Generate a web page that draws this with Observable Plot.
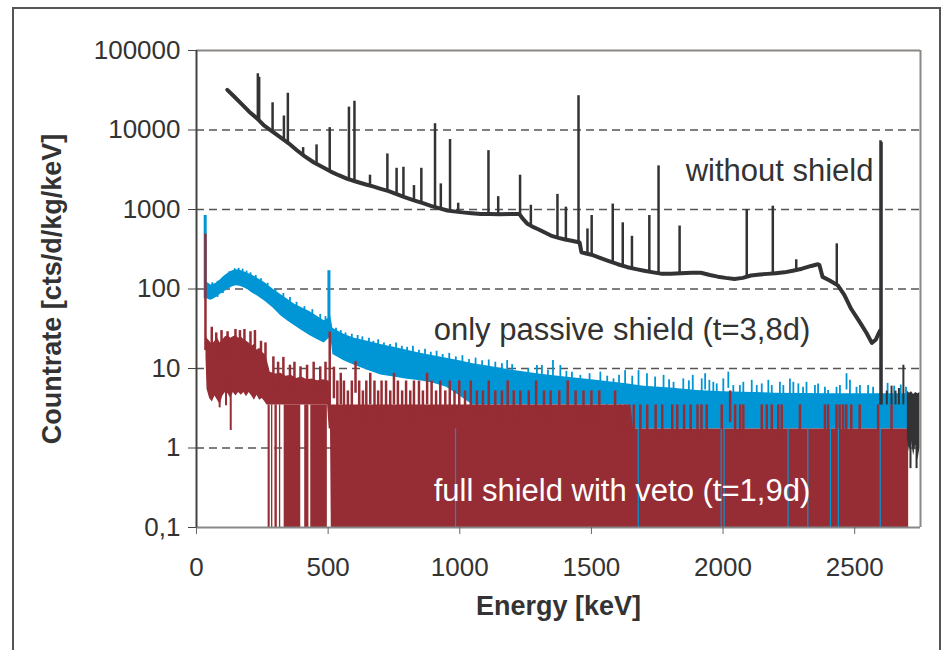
<!DOCTYPE html>
<html><head><meta charset="utf-8">
<script src="https://cdn.jsdelivr.net/npm/d3@7"></script>
<script src="https://cdn.jsdelivr.net/npm/@observablehq/plot@0.6"></script>
<style>
body{margin:0;background:#fff;}
#wrap{position:relative;width:952px;height:650px;overflow:hidden;background:#fff;}
#border{position:absolute;left:12px;top:7px;width:929px;height:700px;border:2px solid #555;box-sizing:border-box;}
#chart{position:absolute;left:0;top:0;}
</style></head><body>
<div id="wrap"><div id="border"></div><div id="chart"></div></div>
<script>
// ---- axes ----
const xDomain = [0, 2750];
const yDomain = [0.1, 100000];
const xTicks = [0, 500, 1000, 1500, 2000, 2500];
const yTicks = [0.1, 1, 10, 100, 1000, 10000, 100000];
const yTickLabels = ["0,1", "1", "10", "100", "1000", "10000", "100000"];
const gridValues = [1, 10, 100, 1000, 10000];
const xTitle = "Energy [keV]";
const yTitle = "Countrate [cts/d/kg/keV]";

// ---- without shield (continuum + lines) ----
const bareE = [117,140,170,200,230,256,290,319,350,380,410,446,480,510,540,573,605,640,670,700,730,760,790,826,860,890,920,953,985,1010,1045,1080,1115,1150,1190,1226,1240,1257,1280,1300,1325,1346,1375,1400,1425,1447,1455,1462,1480,1500,1530,1561,1600,1637,1670,1700,1735,1764,1800,1840,1880,1916,1950,1980,2010,2043,2075,2106,2140,2170,2200,2233,2265,2300,2335,2360,2366,2378,2405,2436,2460,2487,2520,2545,2565,2580,2592,2597];
const bareV = [32000,27000,21500,17000,14000,11400,9500,8100,6800,5600,4700,3900,3400,3000,2700,2430,2250,2080,1950,1820,1700,1560,1430,1300,1200,1110,1040,970,940,920,900,880,875,870,875,880,760,660,600,560,510,470,440,420,405,390,385,290,280,270,248,228,205,188,178,170,162,156,156,158,160,160,150,143,138,134,138,148,152,155,158,162,170,180,195,205,200,142,128,111,85,56,38,28,21,23,28,30];
const barePeakE    = [233,238,289,332,347,405,456,506,579,600,659,725,760,786,826,854,906,928,963,994,1109,1146,1229,1270,1371,1403,1451,1485,1501,1581,1619,1654,1720,1755,1835,2090,2189,2278,2432,2598];
const barePeakBase = [14000,13500,9300,7400,6800,4800,3700,3000,2400,2300,2000,1750,1560,1470,1300,1220,1070,1020,960,935,875,870,880,630,450,420,390,278,270,220,195,186,168,158,158,145,158,172,112,3.48];
const barePeakTop  = [51000,46000,22000,15000,29000,6000,6500,10700,19400,23000,2700,5000,3300,3400,2000,3300,12000,2100,7600,1200,5500,1450,2700,1130,1550,1070,27000,570,840,1170,680,460,840,3540,620,1000,1100,233,370,7300];
const bareTailE  = [2700,2708,2716,2724,2732,2740,2748];
const bareTailLo = [1.3,0.9,1.2,0.8,1.1,0.7,1.0];
const bareTailHi = [5.2,4.9,5.1,4.7,5.0,4.8,5.0];
const bareTailSpikeE   = [2603,2622,2640,2655,2668,2685,2712,2735];
const bareTailSpikeLo  = [3.48,3.48,3.48,3.48,3.48,3.48,0.55,0.55];
const bareTailSpikeTop = [7000,5.2,6.0,5.2,5.6,11,2.0,2.0];

// ---- only passive shield (t=3,8d) ----
const passE  = [36,45,55,65,75,90,105,120,135,150,165,180,195,210,230,260,290,320,345,370,400,430,460,485,498,510,518,560,600,650,700,750,800,850,900,950,1000,1050,1100,1200,1300,1400,1500,1640,1650,1700,1800,1900,2000,2200,2400,2600,2705];
const passLo = [78,74,72,75,78,85,92,100,106,110,108,104,98,90,82,70,58,46,40,35,30,26,23,21,23,25,15,12.5,11,9.5,8.3,7.8,7.3,7.0,6.5,5.8,4.5,3.48,3.48,3.48,3.48,3.48,3.48,3.48,1.74,1.74,1.74,1.74,1.74,1.74,1.74,1.74,1.74];
const passHi = [125,118,112,115,118,130,145,158,168,175,172,165,158,150,138,120,100,85,75,65,58,52,45,40,42,45,32,27,24,22,20,18.5,17,15.5,14.5,13.5,12.5,11.5,10.8,9.5,8.5,7.8,7.2,6.4,6.3,6.0,5.7,5.3,5.1,4.9,4.8,4.8,4.8];
const passSpikeE   = [60,80,100,125,145,160,175,190,205,225,245,270,300,330,355,380,410,440,470,490,530,548,566,590,612,630,655,672,690,712,735,758,780,800,822,845,868,890,912,935,960,985,1010,1035,1060,1085,1110,1135,1160,1180,1199,1230,1260,1293,1312,1335,1354,1382,1405,1426,1458,1493,1534,1560,1584,1605,1628,1655,1679,1711,1742,1774,1795,1812,1849,1870,1885,1919,1932,1948,1963,1976,2001,2020,2039,2064,2077,2109,2128,2147,2172,2185,2216,2229,2254,2267,2286,2304,2317,2349,2361,2387,2399,2431,2444,2469,2482,2507,2520,2551,2570,2600,2625,2650,2675,2695];
const passSpikeTop = [120,125,140,165,180,182,178,168,160,148,135,118,100,88,78,68,60,55,48,45,32,30,28,27,26,25,24,22,23,21,20,21,19,18.5,19,17,17.5,16,16.5,15,15.5,14,14.5,13,13.5,12.5,12.8,12,11.5,12.6,11.2,9.0,10,10.9,10.9,9.5,12.6,10.9,9.2,9.0,8.2,8.6,9.0,8.0,7.4,8.2,9.4,8.0,9.4,8.6,7.8,8.2,7.2,6.7,7.4,7.0,8.2,7.4,8.6,7.1,6.7,6.4,7.4,9.0,6.1,6.1,6.7,7.1,6.1,6.4,7.1,6.1,6.7,6.1,7.4,6.7,6.4,5.8,6.7,6.1,6.4,5.8,5.3,5.8,6.1,8.6,7.1,5.8,6.1,6.1,5.8,6.0,6.5,6.0,6.2,5.8];
const passPeakE   = [33, 503];
const passPeakLo  = [75, 25];
const passPeakTop = [840, 170];
const passZeroE   = [984,1678,1993,2004,2247,2322,2408,2438,2597];

// ---- full shield with veto (t=1,9d) ----
const vetoStep = 1.74; // one count
const vetoE  = [36,40,50,60,70,80,90,100,110,120,130,140,150,160,170,180,190,200,210,220,230,240,250,260,268,280,300,320,340,360,380,400,420,440,460,480,498,504,509,512,1650,1660,2705];
const vetoLo = [14,5.5,4.2,3.8,4.5,4.0,3.5,4.5,5,4.8,4.2,5,4.5,5,4.6,5,4.4,5,4.5,4,4.6,4,4.2,3.8,3.48,3.48,3.48,3.48,3.48,3.48,3.48,3.48,3.48,3.48,3.48,3.48,3.48,1.74,1.74,0.1,0.1,0.1,0.1];
const vetoHi = [30,24,22,20,22,24,21,23,25,26,24,25,26,24,25,23,22,21,19,20,17,18,16,15,13,9,8.5,8.7,8,8.2,7.5,7.8,7.2,7.4,7,7.2,7,7,5.22,3.48,3.48,1.74,1.74];
const vetoZeroStart = [272,285,298,315,333,411,434];
const vetoZeroEnd   = [280,290,307,320,396,427,497];
const vetoSpikeE   = [58,75,95,118,148,165,182,205,222,245,262,292,310,330,355,372,395,420,445,470,490,522,535,548,560,575,590,604,618,632,645,660,676,690,703,720,736,750,765,781,796,812,826,845,860,876,893,910,926,945,962,980,998,1020,1042,1065,1088,1110,1135,1160,1182,1205,1230,1262,1290,1320,1345,1378,1410,1440,1470,1500,1530,1559,1590,1609,1629,1661,1686,1712,1744,1769,1807,1826,1852,1877,1903,1918,1938,1995,2027,2046,2065,2077,2147,2166,2185,2210,2223,2292,2387,2399,2431,2443,2456,2468,2487,2519,2589,2640];
const vetoSpikeTop = [33,28,30,29,31,30,31,29,30,22,21,14,12,13.8,11,12,10.5,11,12,10.5,12,10.4,6.96,8.7,6.96,5.22,6.96,12.2,6.96,5.22,6.96,8.7,6.96,5.22,6.96,6.96,5.22,8.7,6.96,5.22,6.96,5.22,6.96,6.96,5.22,8.7,6.96,5.22,6.96,5.22,6.96,5.22,6.96,5.22,6.96,5.22,5.22,6.96,5.22,5.22,6.96,5.22,5.22,5.22,6.96,5.22,5.22,5.22,6.96,5.22,5.22,5.22,5.22,3.48,5.22,3.48,3.48,3.48,3.48,3.48,3.48,3.48,3.48,3.48,3.48,3.48,3.48,3.48,3.48,3.48,5.22,3.48,3.48,3.48,3.48,3.48,3.48,3.48,3.48,3.48,3.48,3.48,3.48,3.48,3.48,3.48,3.48,3.48,3.48,3.48];
const vetoDipE = [88,112,130];
const vetoDipV = [3.2,3.4,1.66];
const vetoPeakE   = [34, 506];
const vetoPeakLo  = [16.8, 3.48];
const vetoPeakTop = [490, 28.6];

// ---- labels ----
const annoText = ["without shield", "only passive shield (t=3,8d)", "full shield with veto (t=1,9d)"];
const annoE = [1858, 901, 901];
const annoV = [3000, 30, 0.29];

// ---- build tables ----
const bare = bareE.map((e,i)=>({e, v: bareV[i]}));
const barePeaks = barePeakE.map((e,i)=>({e, lo: barePeakBase[i], top: barePeakTop[i]}));
const bareTail = bareTailE.map((e,i)=>({e, lo: bareTailLo[i], hi: bareTailHi[i]}));
const bareTailSpikes = bareTailSpikeE.map((e,i)=>({e, lo: bareTailSpikeLo[i], top: bareTailSpikeTop[i]}));
const pass = passE.map((e,i)=>({e, lo: passLo[i], hi: passHi[i]}));
const passSpikes = passSpikeE.map((e,i)=>({e, top: passSpikeTop[i]}));
const passPeaks = passPeakE.map((e,i)=>({e, lo: passPeakLo[i], top: passPeakTop[i]}));
const passZeros = passZeroE.map(e=>({e}));
const veto = vetoE.map((e,i)=>({e, lo: vetoLo[i], hi: vetoHi[i]}));
const vetoZeros = vetoZeroStart.map((a,i)=>({a, b: vetoZeroEnd[i]}));
const vetoSpikes = vetoSpikeE.map((e,i)=>({e, top: vetoSpikeTop[i]}));
const vetoDips = vetoDipE.map((e,i)=>({e, v: vetoDipV[i]}));
const vetoPeaks = vetoPeakE.map((e,i)=>({e, lo: vetoPeakLo[i], top: vetoPeakTop[i]}));
const annos = annoText.map((t,i)=>({t, e: annoE[i], v: annoV[i]}));
const yLabelOf = new Map(yTicks.map((d,i)=>[d, yTickLabels[i]]));

const fam = "'Liberation Sans', Arial, sans-serif";
const ink = "#333";
const cBare = "#333336", cPass = "#0096d6", cVeto = "#962d34";

const chart = Plot.plot({
  width: 952, height: 650,
  marginLeft: 196, marginRight: 32, marginTop: 50, marginBottom: 123,
  style: {fontFamily: fam, fontSize: "26px", color: ink, background: "transparent", overflow: "visible"},
  x: {domain: xDomain},
  y: {type: "log", domain: yDomain},
  marks: [
    Plot.ruleY(gridValues, {stroke: "#555", strokeWidth: 1.3, strokeDasharray: "8,5"}),
    // passive shield
    Plot.areaY(pass, {x: "e", y1: "lo", y2: "hi", fill: cPass}),
    Plot.ruleX(passSpikes, {x: "e", y1: d => d.top / 1.6, y2: "top", stroke: cPass, strokeWidth: 1.8}),
    Plot.ruleX(passPeaks, {x: "e", y1: "lo", y2: "top", stroke: cPass, strokeWidth: 3}),
    // veto
    Plot.areaY(veto, {x: "e", y1: "lo", y2: "hi", fill: cVeto}),
    Plot.rect(vetoZeros, {x1: "a", x2: "b", y1: () => yDomain[0], y2: () => 2 * vetoStep, fill: cVeto}),
    Plot.ruleX(vetoSpikes, {x: "e", y1: d => d.top / 2.5, y2: "top", stroke: cVeto, strokeWidth: 2.5}),
    Plot.ruleX(vetoDips, {x: "e", y1: "v", y2: () => 8, stroke: cVeto, strokeWidth: 2}),
    Plot.ruleX(vetoPeaks, {x: "e", y1: "lo", y2: "top", stroke: cVeto, strokeWidth: 2.5}),
    Plot.ruleX(passZeros, {x: "e", y1: () => yDomain[0], y2: () => vetoStep, stroke: cPass, strokeWidth: 1.2}),
    // without shield
    Plot.line(bare, {x: "e", y: "v", stroke: cBare, strokeWidth: 4, strokeLinejoin: "round"}),
    Plot.ruleX(barePeaks, {x: "e", y1: "lo", y2: "top", stroke: cBare, strokeWidth: 2.5}),
    Plot.areaY(bareTail, {x: "e", y1: "lo", y2: "hi", fill: cBare}),
    Plot.ruleX(bareTailSpikes, {x: "e", y1: "lo", y2: "top", stroke: cBare, strokeWidth: 2}),
    // frame
    Plot.ruleY([yDomain[1]], {stroke: "#8c8884", strokeWidth: 2}),
    Plot.ruleX([xDomain[1]], {stroke: "#8c8884", strokeWidth: 2}),
    Plot.ruleY([yDomain[0]], {stroke: "#888", strokeWidth: 2}),
    Plot.ruleX([xDomain[0]], {stroke: "#444", strokeWidth: 2}),
    // axes
    Plot.axisY(yTicks, {tickFormat: d => yLabelOf.get(d), tickSize: 8, tickPadding: 8, fontSize: 26, stroke: "#444", label: null}),
    Plot.axisX(xTicks, {tickFormat: "d", tickSize: 7, tickPadding: 23, fontSize: 26, stroke: "#666", label: null}),
    Plot.text([xTitle], {frameAnchor: "bottom", dy: 87, fontWeight: "bold", fontSize: 27, fill: ink}),
    Plot.text([yTitle], {frameAnchor: "left", dx: -144, rotate: -90, textAnchor: "middle", lineAnchor: "middle", fontWeight: "bold", fontSize: 27, fill: ink}),
    // annotations
    Plot.text(annos.slice(0, 2), {x: "e", y: "v", text: "t", textAnchor: "start", fontSize: 31, fill: ink}),
    Plot.text(annos.slice(2), {x: "e", y: "v", text: "t", textAnchor: "start", fontSize: 31, fill: "#fff"})
  ]
});
document.getElementById("chart").appendChild(chart);
</script>
</body></html>
